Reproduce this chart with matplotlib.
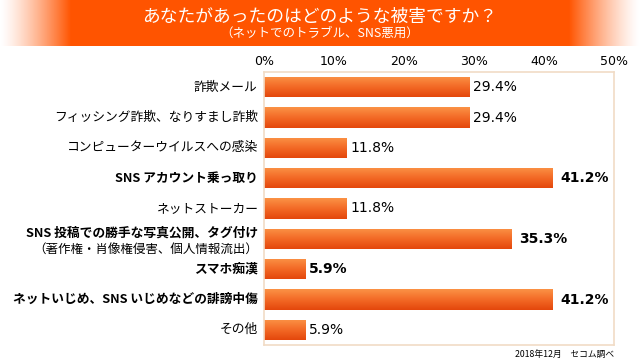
import numpy as np
import matplotlib
matplotlib.use("Agg")
import matplotlib.pyplot as plt
from matplotlib.colors import LinearSegmentedColormap

plt.rcParams['font.family'] = ['Noto Sans CJK JP', 'DejaVu Sans']

# data
labels = ["詐欺メール", "フィッシング詐欺、なりすまし詐欺", "コンピューターウイルスへの感染",
          "SNS アカウント乗っ取り", "ネットストーカー", "SNS 投稿での勝手な写真公開、タグ付け",
          "スマホ痴漢", "ネットいじめ、SNS いじめなどの誹謗中傷", "その他"]
values = [29.4, 29.4, 11.8, 41.2, 11.8, 35.3, 5.9, 41.2, 5.9]
bold = [False, False, False, True, False, True, True, True, False]
sub_label = "（著作権・肖像権侵害、個人情報流出）"
ticks = [0, 10, 20, 30, 40, 50]
title = "あなたがあったのはどのような被害ですか？"
subtitle = "（ネットでのトラブル、SNS悪用）"
source = "2018年12月　セコム調べ"

# label offsets (points) right of each bar end
val_pad = [2.5, 2.5, 2.5, 6, 2.5, 6, 2.5, 6, 2.5]

fig = plt.figure(figsize=(6.4, 3.62), dpi=100)

# header band
hdr = fig.add_axes([0, 1 - 46 / 362, 1, 46 / 362])
x = np.linspace(0, 1, 640)
alpha = np.clip(np.minimum(x, 1 - x) / 0.11, 0, 1) ** 1.3
band = np.zeros((1, 640, 4))
band[..., 0] = 1.0
band[..., 1] = 0.33
band[..., 2] = 0.0
band[..., 3] = alpha
hdr.imshow(band, aspect='auto', extent=[0, 1, 0, 1])
hdr.set_xlim(0, 1)
hdr.set_ylim(0, 1)
hdr.axis('off')
hdr.text(0.5, 0.63, title, color='white', fontsize=12.8, ha='center', va='center')
hdr.text(0.5, 0.27, subtitle, color='white', fontsize=9, ha='center', va='center')

ax = fig.add_axes([264 / 640, 1 - 345 / 362, 350 / 640, 273 / 362])
ypos = np.arange(len(values))
bars = ax.barh(ypos, values, height=0.66, color='#f26a24', edgecolor='none')

cmap = LinearSegmentedColormap.from_list('bar', ['#e4470c', '#f36a26', '#fb9245'])
grad = np.linspace(0, 1, 64).reshape(-1, 1)
for b in bars:
    x0, y0 = b.get_x(), b.get_y()
    w, h = b.get_width(), b.get_height()
    im = ax.imshow(grad, cmap=cmap, aspect='auto', extent=[x0, x0 + w, y0 + h, y0],
                   origin='lower', zorder=2)
    im.set_clip_path(b)

ax.set_xlim(0, 50)
ax.set_ylim(len(values) - 0.5, -0.5)
ax.set_xticks(ticks)
ax.set_xticklabels([f"{t}%" for t in ticks], fontsize=9, family='DejaVu Sans')
ax.xaxis.tick_top()
ax.tick_params(axis='x', length=0, pad=3)
ax.set_yticks(ypos)
ax.set_yticklabels([])
ax.tick_params(axis='y', length=0)
for s in ax.spines.values():
    s.set_color('#f1dcc6')
    s.set_linewidth(1.2)

for i, (lab, v, b) in enumerate(zip(labels, values, bold)):
    w = 'bold' if b else 'normal'
    yl = i - 0.2 if i == 5 else i
    ax.annotate(lab, xy=(0, yl), xycoords=('axes fraction', 'data'), xytext=(-4.5, 0),
                textcoords='offset points', ha='right', va='center', fontsize=9.2,
                fontweight=w, color='black')
    ax.annotate(f"{v}%", xy=(v, i), xytext=(val_pad[i], 0), textcoords='offset points',
                ha='left', va='center', fontsize=10, fontweight=w, color='black',
                family='DejaVu Sans')

ax.annotate(sub_label, xy=(0, 5.35), xycoords=('axes fraction', 'data'), xytext=(-4.5, 0),
            textcoords='offset points', ha='right', va='center', fontsize=9, color='black')

fig.text(614 / 640, 1 - 354 / 362, source, fontsize=6.3, ha='right', va='center')

fig.savefig("out.png", dpi=100)
